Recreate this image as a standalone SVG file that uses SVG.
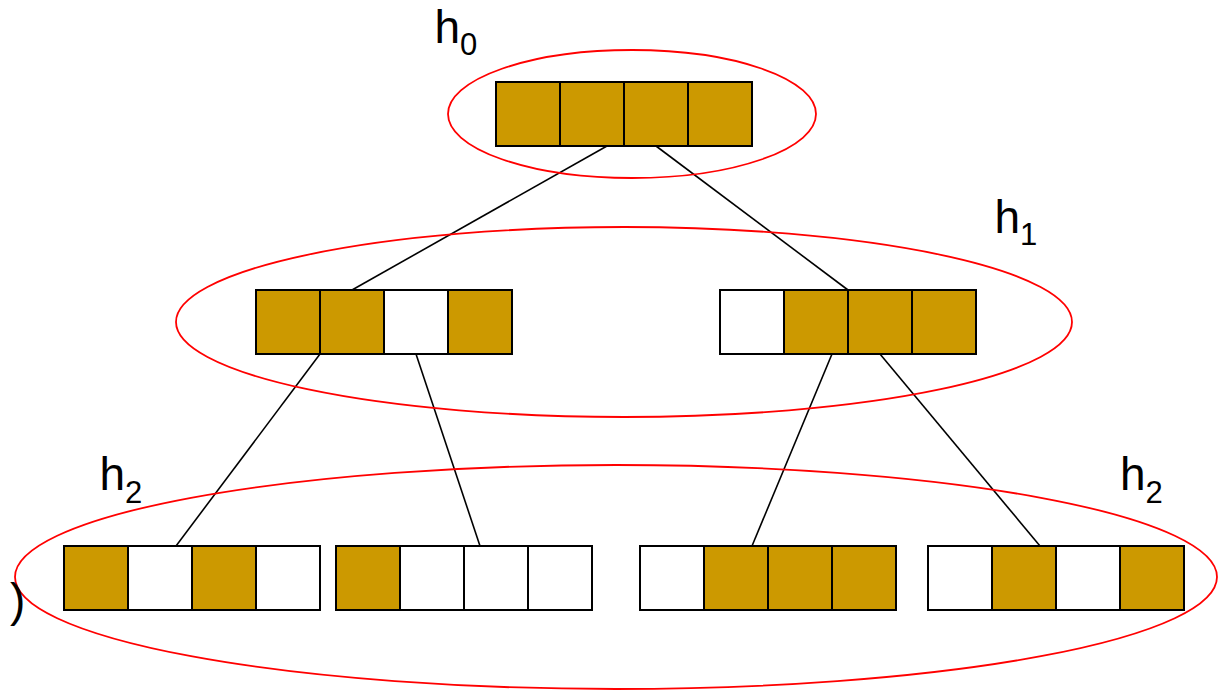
<svg xmlns="http://www.w3.org/2000/svg" width="1222" height="691" viewBox="0 0 1222 691">
  <style>
    .on { fill: #CC9900; stroke: #000; stroke-width: 2; }
    .off { fill: #FFFFFF; stroke: #000; stroke-width: 2; }
    .ring { fill: none; stroke: #FF0000; stroke-width: 1.8; }
    .edge { stroke: #000; stroke-width: 1.6; fill: none; }
    .lbl { font-family: "Liberation Sans", Arial, sans-serif; font-size: 46px; fill: #000; }
    .sub { font-size: 31px; }
  </style>
  <defs>
    <!-- one 64x64 bit cell of a level vector -->
    <rect id="cell" width="64" height="64"/>
  </defs>
  <rect width="1222" height="691" fill="#FFFFFF"/>

  <!-- tree edges -->
  <g id="connectors">
    <line class="edge" x1="607" y1="146" x2="352" y2="290" stroke-width="1.8"/>
    <line class="edge" x1="656" y1="146" x2="848" y2="290" stroke-width="1.8"/>
    <line class="edge" x1="320" y1="354" x2="176" y2="546"/>
    <line class="edge" x1="416" y1="354" x2="480" y2="546"/>
    <line class="edge" x1="832" y1="354" x2="752" y2="546"/>
    <line class="edge" x1="880" y1="354" x2="1040" y2="546"/>
  </g>

  <!-- level 0 -->
  <g id="root">
    <use href="#cell" class="on" x="496" y="82"/>
    <use href="#cell" class="on" x="560" y="82"/>
    <use href="#cell" class="on" x="624" y="82"/>
    <use href="#cell" class="on" x="688" y="82"/>
  </g>

  <!-- level 1 -->
  <g id="mid-left">
    <use href="#cell" class="on" x="256" y="290"/>
    <use href="#cell" class="on" x="320" y="290"/>
    <use href="#cell" class="off" x="384" y="290"/>
    <use href="#cell" class="on" x="448" y="290"/>
  </g>
  <g id="mid-right">
    <use href="#cell" class="off" x="720" y="290"/>
    <use href="#cell" class="on" x="784" y="290"/>
    <use href="#cell" class="on" x="848" y="290"/>
    <use href="#cell" class="on" x="912" y="290"/>
  </g>

  <!-- level 2 -->
  <g id="leaf-1">
    <use href="#cell" class="on" x="64" y="546"/>
    <use href="#cell" class="off" x="128" y="546"/>
    <use href="#cell" class="on" x="192" y="546"/>
    <use href="#cell" class="off" x="256" y="546"/>
  </g>
  <g id="leaf-2">
    <use href="#cell" class="on" x="336" y="546"/>
    <use href="#cell" class="off" x="400" y="546"/>
    <use href="#cell" class="off" x="464" y="546"/>
    <use href="#cell" class="off" x="528" y="546"/>
  </g>
  <g id="leaf-3">
    <use href="#cell" class="off" x="640" y="546"/>
    <use href="#cell" class="on" x="704" y="546"/>
    <use href="#cell" class="on" x="768" y="546"/>
    <use href="#cell" class="on" x="832" y="546"/>
  </g>
  <g id="leaf-4">
    <use href="#cell" class="off" x="928" y="546"/>
    <use href="#cell" class="on" x="992" y="546"/>
    <use href="#cell" class="off" x="1056" y="546"/>
    <use href="#cell" class="on" x="1120" y="546"/>
  </g>

  <!-- level outlines -->
  <g id="levels">
    <ellipse class="ring" cx="632" cy="114" rx="184" ry="64"/>
    <ellipse class="ring" cx="624" cy="322" rx="448" ry="95"/>
    <ellipse class="ring" cx="616" cy="577" rx="601" ry="112"/>
  </g>

  <!-- level labels -->
  <g id="labels">
    <text class="lbl" x="434.5" y="42.5">h<tspan class="sub" x="460" y="54.5">0</tspan></text>
    <text class="lbl" x="994.5" y="233">h<tspan class="sub" x="1020" y="245">1</tspan></text>
    <text class="lbl" x="99.5" y="490">h<tspan class="sub" x="125" y="502.5">2</tspan></text>
    <text class="lbl" x="1120" y="490">h<tspan class="sub" x="1145.5" y="502.5">2</tspan></text>
    <text class="lbl" x="10" y="616">)</text>
  </g>
</svg>
